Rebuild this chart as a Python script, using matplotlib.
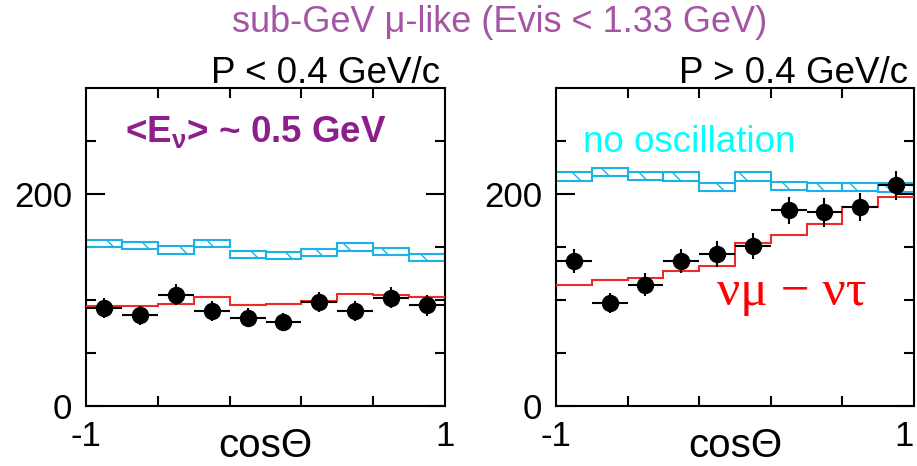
import numpy as np
import matplotlib
matplotlib.use("Agg")
import matplotlib.pyplot as plt
from matplotlib.ticker import FixedLocator

plt.rcParams['font.family'] = ['Liberation Sans', 'DejaVu Sans']
plt.rcParams['hatch.linewidth'] = 1.0
plt.rcParams['mathtext.fontset'] = 'custom'
plt.rcParams['mathtext.rm'] = 'Liberation Sans'

# cos(zenith) binning: 10 bins from -1 to 1
edges = np.linspace(-1, 1, 11)
centers = 0.5 * (edges[:-1] + edges[1:])

# P < 0.4 GeV/c
low_noosc = [153.5, 151.5, 147.0, 153.5, 143.0, 141.8, 145.0, 150.0, 146.0, 140.0]
low_noosc_err = [3.5, 3.5, 3.5, 3.5, 3.5, 3.5, 3.5, 3.5, 3.5, 3.2]
low_osc = [94.0, 94.0, 96.0, 102.7, 94.8, 96.4, 99.5, 105.8, 105.0, 103.0]
low_data = [92.0, 85.4, 105.0, 90.0, 83.3, 79.0, 98.0, 90.0, 102.0, 95.0]
low_data_err = [9.4, 9.0, 10.0, 9.5, 9.0, 8.5, 9.8, 9.5, 10.0, 9.8]

# P > 0.4 GeV/c
high_noosc = [216.5, 220.6, 216.8, 216.5, 206.7, 216.5, 207.5, 206.7, 206.7, 206.0]
high_noosc_err = [4.0, 3.8, 3.7, 4.0, 3.9, 4.0, 3.8, 3.9, 3.9, 3.9]
high_osc = [114.6, 119.0, 120.8, 127.0, 132.4, 153.4, 161.1, 172.1, 187.6, 197.5]
high_data = [137.0, 97.3, 114.6, 136.4, 143.4, 150.9, 184.6, 182.8, 187.8, 208.2]
high_data_err = [11.4, 9.4, 10.5, 11.3, 12.2, 12.0, 12.8, 13.5, 13.3, 13.8]

CYAN = '#1bb3e6'
RED = '#ee2a2a'

fig = plt.figure(figsize=(9.17, 4.66), dpi=100)
ax_lo = fig.add_axes([0.0938, 0.1288, 0.3915, 0.6824])
ax_hi = fig.add_axes([0.6063, 0.1288, 0.3904, 0.6824])


def draw_panel(ax, noosc, noosc_err, osc, data, data_err):
    noosc = np.asarray(noosc)
    noosc_err = np.asarray(noosc_err)
    # no-oscillation MC as hatched error boxes
    ax.bar(centers, 2 * noosc_err, bottom=noosc - noosc_err, width=0.2,
           fill=False, hatch='\\', edgecolor=CYAN, linewidth=1.5, zorder=2)
    # best-fit oscillation histogram
    ax.stairs(osc, edges, baseline=None, color=RED, linewidth=1.5, zorder=3)
    ax.errorbar(centers, data, yerr=data_err, xerr=0.1, fmt='o', color='k',
                ms=11.5, elinewidth=1.5, capsize=0, zorder=4)

    ax.set_xlim(-1, 1)
    ax.set_ylim(0, 300)
    ax.set_xticks([-1, 1], ['-1', '1'])
    ax.xaxis.set_minor_locator(FixedLocator([-0.6, -0.2, 0.2, 0.6]))
    ax.set_yticks([0, 200], ['0', '200'])
    ax.yaxis.set_minor_locator(FixedLocator([50, 100, 150, 250]))
    ax.tick_params(axis='both', which='both', direction='in', top=True,
                   right=True, width=1.5, labelsize=25)
    ax.tick_params(axis='x', which='major', length=0, pad=10)
    ax.tick_params(axis='x', which='minor', length=7)
    ax.tick_params(axis='y', which='major', length=14, pad=10)
    ax.tick_params(axis='y', which='minor', length=7)
    for sp in ax.spines.values():
        sp.set_linewidth(1.5)
    ax.text(0.5, -0.16, 'cosΘ', transform=ax.transAxes, ha='center',
            va='baseline', fontsize=29)


draw_panel(ax_lo, low_noosc, low_noosc_err, low_osc, low_data, low_data_err)
draw_panel(ax_hi, high_noosc, high_noosc_err, high_osc, high_data, high_data_err)

# keep the last "1" inside the canvas
ax_hi.get_xticklabels()[-1].set_horizontalalignment('right')

ax_lo.text(0.986, 1.016, 'P < 0.4 GeV/c', transform=ax_lo.transAxes,
           ha='right', va='baseline', fontsize=26.5)
ax_hi.text(0.983, 1.016, 'P > 0.4 GeV/c', transform=ax_hi.transAxes,
           ha='right', va='baseline', fontsize=26.5)

ax_lo.text(-0.783, 248.8, r'<E$_{\mathregular{ν}}$> ~ 0.5 GeV', color='#8c1f8c',
           fontsize=26.5, fontweight='bold', va='baseline')
ax_hi.text(-0.849, 239.7, 'no oscillation', color='#00ffff', fontsize=26.5,
           va='baseline')
ax_hi.text(-0.101, 94.8, 'νμ − ντ', color='#ff0000', fontsize=37,
           family='Liberation Serif', va='baseline')

fig.text(0.545, 0.931, 'sub-GeV μ-like (Evis < 1.33 GeV)', color='#a455a4',
         fontsize=26, ha='center', va='baseline')

fig.savefig('out.png', dpi=100)
